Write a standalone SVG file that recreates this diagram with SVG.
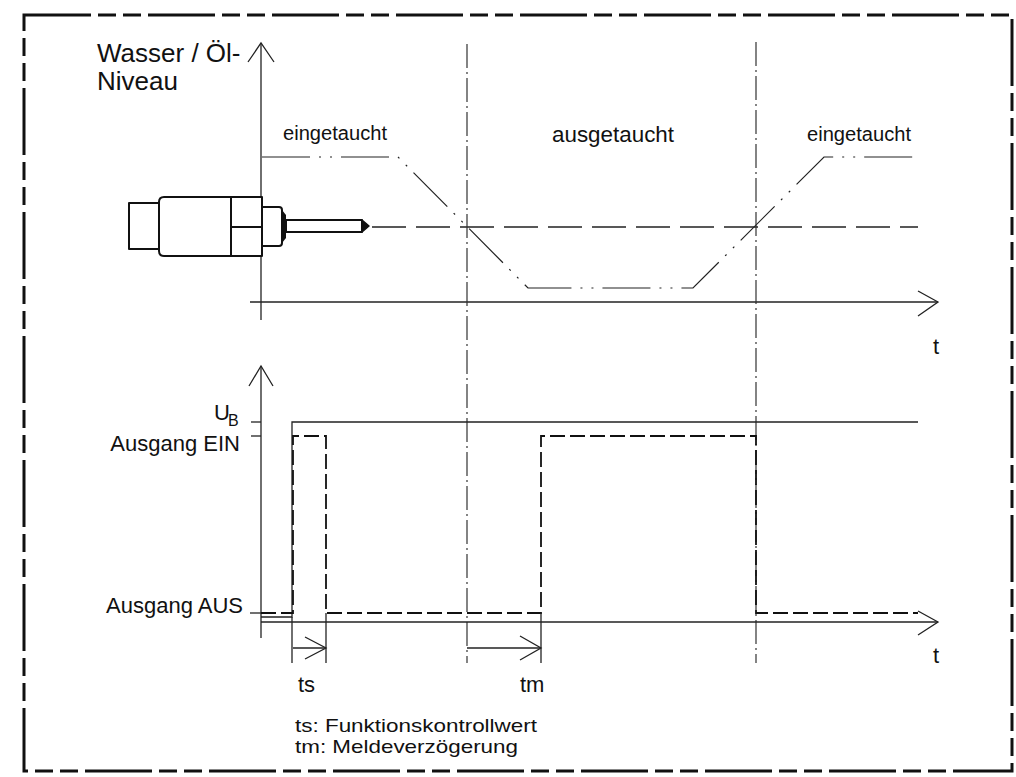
<svg xmlns="http://www.w3.org/2000/svg" width="1016" height="777" viewBox="0 0 1016 777">
<style>
text{font-family:"Liberation Sans",Arial,sans-serif;fill:#111}
.ax{stroke:#222;stroke-width:1.3;fill:none}
.frame{stroke:#111;stroke-width:3;fill:none;stroke-dasharray:67 7 18 7 18 7}
.dd{stroke:#333;stroke-width:1.2;fill:none;stroke-dasharray:24 4 2 4}
.lvl{stroke:#222;stroke-width:1.2;fill:none;stroke-dasharray:48 9 2 9 2 9}
.mid{stroke:#222;stroke-width:1.3;fill:none;stroke-dasharray:34 10}
.sig{stroke:#111;stroke-width:1.8;fill:none;stroke-dasharray:15 5}
.sen{stroke:#111;stroke-width:2;fill:#fff;stroke-linejoin:round}
</style>
<rect width="1016" height="777" fill="#fff"/>
<rect class="frame" x="24" y="15" width="988" height="756"/>

<g id="upper-axes">
  <line class="ax" x1="261" y1="43" x2="261" y2="320"/>
  <polyline class="ax" points="248,62 261,43 274,62"/>
  <line class="ax" x1="250" y1="302" x2="938" y2="302"/>
  <polyline class="ax" points="918,291 938,302 918,316"/>
  <text x="97" y="62" font-size="26">Wasser / Öl-</text>
  <text x="97" y="90" font-size="26">Niveau</text>
  <text x="933" y="354" font-size="22">t</text>
</g>

<g id="sensor">
  <rect class="sen" x="129" y="203" width="30" height="46"/>
  <path class="sen" d="M164 197 H262 V256 H164 Q159 256 159 251 V202 Q159 197 164 197 Z"/>
  <line class="sen" x1="231" y1="197" x2="231" y2="256"/>
  <line class="sen" x1="231" y1="227" x2="262" y2="227"/>
  <path class="sen" d="M262 207 H279 Q282 207 282 210 V243 Q282 246 279 246 H262 Z"/>
  <path d="M282 210 L286 215 V238 L282 243 Z" fill="#111"/>
  <rect class="sen" x="286" y="220" width="76" height="12"/>
  <path d="M362 220 L369 226 L362 232 Z" fill="#111" stroke="#111" stroke-width="1.5" stroke-linejoin="round"/>
</g>

<g id="level">
  <line class="mid" x1="372" y1="227" x2="918" y2="227"/>
  <polyline class="lvl" points="262,157 398,157 528,288 693,288 824,157 918,157"/>
  <text x="283" y="140" font-size="20" textLength="104" lengthAdjust="spacingAndGlyphs">eingetaucht</text>
  <text x="552" y="142" font-size="22" textLength="122" lengthAdjust="spacingAndGlyphs">ausgetaucht</text>
  <text x="807" y="141" font-size="20" textLength="104" lengthAdjust="spacingAndGlyphs">eingetaucht</text>
</g>

<g id="connectors">
  <line class="dd" x1="467" y1="44" x2="467" y2="663"/>
  <line class="dd" x1="756" y1="42" x2="756" y2="663"/>
</g>

<g id="lower-axes">
  <line class="ax" x1="261" y1="366" x2="261" y2="638"/>
  <polyline class="ax" points="249,386 261,366 273,386"/>
  <line class="ax" x1="261" y1="622" x2="938" y2="622"/>
  <polyline class="ax" points="918,611 938,622 918,635"/>
  <line class="ax" x1="251" y1="422" x2="261" y2="422"/>
  <line class="ax" x1="251" y1="436" x2="261" y2="436"/>
  <line class="ax" x1="250" y1="613" x2="261" y2="613"/>
  <text x="214" y="420" font-size="22">U</text>
  <text x="228" y="426" font-size="16">B</text>
  <text x="240" y="451" font-size="22" text-anchor="end">Ausgang EIN</text>
  <text x="243" y="613" font-size="22" text-anchor="end">Ausgang AUS</text>
  <text x="933" y="663" font-size="22">t</text>
</g>

<g id="supply">
  <polyline class="ax" points="261,617 292,617 292,422 918,422"/>
  <line class="ax" x1="292" y1="617" x2="292" y2="663"/>
</g>

<g id="output-signal">
  <polyline class="sig" points="261,613 293,613 293,436 326,436 326,613 541,613 541,436 756,436 756,613 918,613"/>
</g>

<g id="ts">
  <line class="ax" x1="326" y1="613" x2="326" y2="663"/>
  <line class="ax" x1="293" y1="648" x2="326" y2="648"/>
  <polyline class="ax" points="305,637 326,648 305,659"/>
  <text x="298" y="692" font-size="22">ts</text>
</g>

<g id="tm">
  <line class="ax" x1="541" y1="613" x2="541" y2="663"/>
  <line class="ax" x1="467" y1="648" x2="541" y2="648"/>
  <polyline class="ax" points="520,636 541,648 520,660"/>
  <text x="520" y="692" font-size="22">tm</text>
</g>

<g id="legend">
  <text x="295" y="732" font-size="19" textLength="242" lengthAdjust="spacingAndGlyphs">ts: Funktionskontrollwert</text>
  <text x="295" y="753" font-size="19" textLength="223" lengthAdjust="spacingAndGlyphs">tm: Meldeverzögerung</text>
</g>
</svg>
